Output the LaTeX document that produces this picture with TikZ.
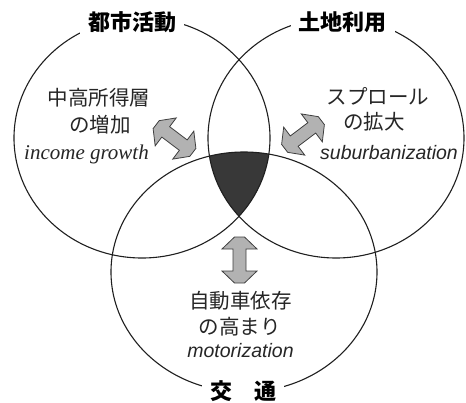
\documentclass[tikz,border=0pt]{standalone}
\usepackage{fontspec}
\setmainfont{Liberation Serif}
\newfontfamily\jp{Noto Sans CJK JP}
\newfontfamily\sansit{Liberation Sans}
\begin{document}
\begin{tikzpicture}[x=1pt,y=-1pt,
  ring/.style={draw=black!88, line width=1.1pt},
  core/.style={fill=black!78},
  titlebox/.style={font=\jp\bfseries\fontsize{22}{22}\selectfont, fill=white, inner xsep=8pt, inner ysep=5pt},
  jlabel/.style={font=\jp\fontsize{20.5}{20.5}\selectfont, text=black!85, inner sep=0pt},
  elabel/.style={font=\itshape\fontsize{21}{21}\selectfont, text=black!85, inner sep=0pt, anchor=base},
  slabel/.style={font=\sansit\itshape\fontsize{19.5}{19.5}\selectfont, text=black!85, inner sep=0pt, anchor=base},
  dblarrow/.style={fill=black!30, draw=black!75, line width=0.8pt, line join=miter},
  pics/dbl/.style={code={
    \filldraw[dblarrow] (-23,-5) -- (-11,-17.5) -- (-11,-6.5) -- (11,-6.5) -- (11,-17.5) -- (23,-5)
      -- (23,5) -- (11,17.5) -- (11,6.5) -- (-11,6.5) -- (-11,17.5) -- (-23,5) -- cycle;
  }}
]
\useasboundingbox (0,0) rectangle (466,402);
\fill[white] (0,0) rectangle (466,402);

% common region of the three circles
\begin{scope}
  \clip (142,138) ellipse [x radius=128pt, y radius=120pt];
  \clip (336,138) ellipse [x radius=128pt, y radius=120pt];
  \fill[core] (244,272) ellipse [x radius=133pt, y radius=120pt];
\end{scope}

% the three circles
\draw[ring] (142,138) ellipse [x radius=128pt, y radius=120pt];
\draw[ring] (336,138) ellipse [x radius=128pt, y radius=120pt];
\draw[ring] (244,272) ellipse [x radius=133pt, y radius=120pt];

% titles
\node[titlebox] (tUrban) at (132,22) {都市活動};
\node[titlebox] (tLand) at (342.5,22.5) {土地利用};
\node[titlebox] (tTrans) at (243,391) {交　通};

% labels
\node[jlabel] (l1a) at (99,97.5) {中高所得層};
\node[jlabel] (l1b) at (100,125) {の増加};
\node[elabel] (l1c) at (86.5,159) {income growth};
\node[jlabel] (r1a) at (378,96) {スプロール};
\node[jlabel] (r1b) at (374,121.5) {の拡大};
\node[slabel] (r1c) at (389,159.5) {suburbanization};
\node[jlabel] (b1a) at (240.5,301) {自動車依存};
\node[jlabel] (b1b) at (239.5,326.5) {の高まり};
\node[slabel] (b1c) at (240.5,357) {motorization};

% double arrows
\pic[rotate=-37] (arrL) at (174.5,138.5) {dbl};
\pic[rotate=37] (arrR) at (303,134.5) {dbl};
\pic[rotate=90] (arrB) at (239.5,260) {dbl};
\end{tikzpicture}
\end{document}
